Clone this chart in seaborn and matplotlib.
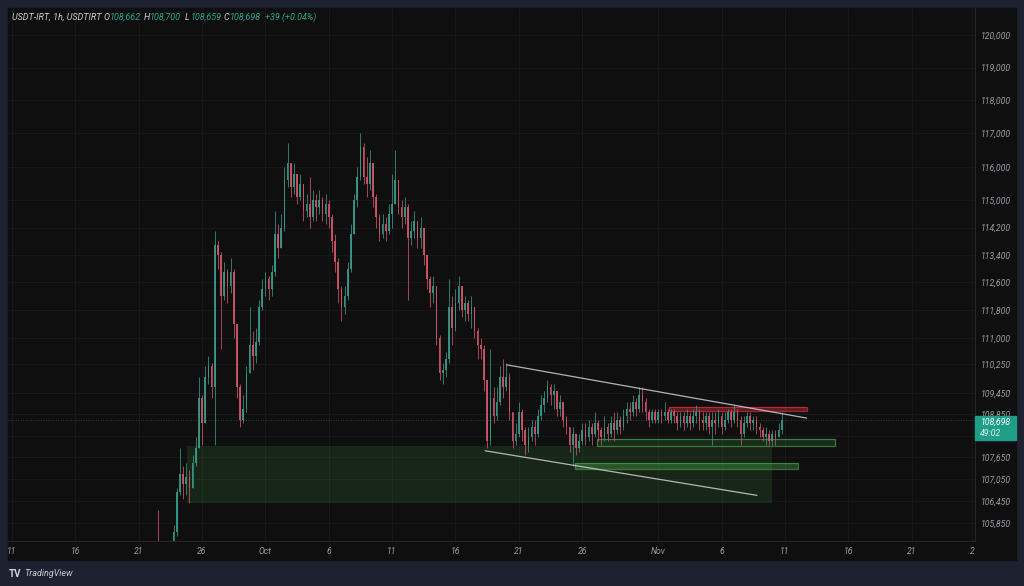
import numpy as np
import pandas as pd
import seaborn as sns
import matplotlib.pyplot as plt
import matplotlib.dates as mdates
from matplotlib.patches import Rectangle
from matplotlib.ticker import FixedLocator, NullLocator, FuncFormatter

# USDT-IRT, resampled to 6h candles, prices in thousands of IRT
START = "2025-09-21 12:00"
FREQ = "6h"
first_open = 104.9

close = [
    104.8, 104.6, 104.9, 105.0, 104.9, 104.7, 104.8, 104.9, 105.0, 105.6,
    106.7, 107.2, 106.9, 107.1, 106.8, 107.5, 107.9, 109.3, 108.6, 109.9,
    110.2, 109.6, 113.7, 113.4, 112.2, 112.9, 112.5, 112.9, 111.4, 109.6,
    108.7, 109.0, 110.0, 110.8, 110.5, 110.9, 111.9, 112.4, 112.7, 112.4,
    112.9, 114.0, 113.6, 114.2, 115.6, 116.1, 115.4, 115.8, 115.1, 115.5,
    114.7, 114.9, 114.5, 115.0, 114.8, 115.0, 114.6, 114.9, 114.5, 113.8,
    113.2, 112.4, 111.9, 112.2, 113.0, 114.0, 115.0, 115.7, 116.6, 115.7,
    115.5, 116.1, 115.1, 114.5, 114.0, 114.3, 114.1, 114.6, 114.9, 115.6,
    114.8, 114.5, 114.8, 113.9, 114.1, 114.4, 113.9, 114.2, 113.4, 112.7,
    112.3, 112.5, 111.0, 110.0, 110.1, 110.4, 111.9, 111.3, 112.0, 112.5,
    111.8, 112.0, 111.7, 111.9, 111.2, 110.8, 110.7, 109.8, 108.1, 109.3,
    108.8, 109.2, 109.9, 109.6, 109.9, 108.9, 108.1, 108.3, 108.9, 108.4,
    108.0, 108.2, 108.5, 108.3, 108.8, 109.1, 109.3, 109.6, 109.4, 109.5,
    109.0, 109.2, 108.7, 108.5, 108.0, 108.3, 107.9, 108.1, 108.4, 108.2,
    108.5, 108.3, 108.6, 108.4, 108.2, 108.5, 108.3, 108.6, 108.4, 108.7,
    108.5, 108.8, 109.0, 108.9, 109.2, 109.0, 109.4, 109.2, 108.9, 108.7,
    108.9, 108.7, 108.9, 108.8, 108.9, 108.7, 108.9, 108.8, 108.6, 108.8,
    108.6, 108.8, 108.6, 108.8, 108.9, 108.7, 108.6, 108.8, 108.5, 108.7,
    108.6, 108.8, 108.5, 108.7, 108.9, 108.7, 108.9, 108.7, 108.3, 108.6,
    108.8, 108.6, 108.7, 108.5, 108.4, 108.2, 108.3, 108.1, 108.3, 108.2,
    108.4, 108.698,
]
high = [
    105.1, 105.0, 105.2, 105.3, 106.2, 105.1, 105.2, 105.3, 105.3, 105.8,
    106.8, 107.9, 107.4, 107.5, 107.3, 107.7, 108.2, 109.9, 109.4, 110.2,
    110.5, 110.3, 114.1, 113.8, 113.5, 113.2, 113.0, 113.3, 113.0, 111.4,
    109.7, 109.4, 110.2, 111.9, 111.2, 111.3, 112.1, 112.7, 112.9, 112.8,
    113.1, 114.7, 114.3, 114.6, 116.0, 116.7, 116.0, 116.1, 115.6, 115.8,
    115.4, 115.2, 115.7, 115.3, 115.2, 115.3, 115.1, 115.2, 115.0, 114.6,
    114.0, 113.3, 112.5, 112.5, 113.2, 114.3, 115.2, 116.0, 117.0, 116.7,
    116.3, 116.5, 116.0, 115.2, 114.6, 114.6, 114.5, 114.9, 115.8, 116.5,
    115.6, 115.0, 115.1, 114.9, 114.4, 114.7, 114.4, 114.5, 114.1, 113.4,
    112.8, 112.8, 112.5, 111.1, 110.3, 110.6, 112.7, 112.2, 112.4, 112.8,
    112.5, 112.2, 112.1, 112.2, 111.9, 111.3, 111.0, 110.8, 109.8, 110.7,
    109.6, 109.6, 110.2, 110.4, 110.3, 110.0, 108.9, 108.6, 109.2, 109.0,
    108.5, 108.5, 108.7, 108.7, 109.0, 109.4, 109.5, 109.8, 109.7, 109.7,
    109.5, 109.4, 109.2, 108.8, 108.5, 108.5, 108.3, 108.3, 108.6, 108.6,
    108.7, 108.6, 108.9, 108.7, 108.5, 108.8, 108.6, 108.8, 108.9, 108.9,
    108.8, 109.0, 109.2, 109.2, 109.4, 109.3, 109.6, 109.6, 109.3, 109.0,
    109.0, 109.0, 109.0, 109.0, 109.2, 109.0, 109.0, 109.0, 108.9, 108.9,
    108.9, 109.0, 108.9, 109.0, 109.1, 109.0, 108.9, 108.9, 108.9, 108.9,
    108.9, 109.0, 108.9, 108.9, 109.0, 109.0, 109.1, 109.0, 108.8, 108.8,
    108.9, 108.9, 108.8, 108.8, 108.6, 108.5, 108.5, 108.4, 108.4, 108.4,
    108.6, 108.9,
]
low = [
    104.5, 104.3, 104.4, 104.6, 104.5, 104.3, 104.4, 104.5, 104.7, 104.9,
    105.5, 106.6, 106.5, 106.6, 106.4, 106.8, 107.4, 107.9, 108.0, 108.6,
    109.7, 109.3, 108.0, 113.0, 110.7, 112.1, 112.0, 112.3, 111.0, 109.3,
    108.5, 108.6, 108.9, 110.0, 110.1, 110.3, 110.8, 111.8, 112.2, 112.1,
    112.2, 112.8, 113.3, 113.6, 114.1, 115.4, 115.1, 115.2, 114.9, 115.0,
    114.4, 114.5, 114.2, 114.4, 114.4, 114.6, 114.4, 114.3, 114.2, 113.5,
    112.9, 112.0, 111.5, 111.7, 112.1, 112.9, 114.1, 114.8, 115.6, 115.5,
    115.1, 115.3, 114.8, 114.2, 113.8, 113.9, 113.8, 114.0, 114.2, 114.9,
    114.6, 114.2, 114.3, 112.1, 113.7, 113.9, 113.6, 113.6, 113.1, 112.4,
    111.9, 112.0, 110.8, 109.8, 109.7, 109.9, 110.3, 110.8, 111.2, 111.8,
    111.6, 111.5, 111.5, 111.3, 111.0, 110.4, 110.4, 109.5, 107.9, 108.0,
    108.6, 108.7, 109.1, 109.3, 109.5, 108.7, 107.9, 108.0, 108.2, 108.1,
    107.7, 107.8, 108.1, 108.0, 108.2, 108.7, 108.9, 109.2, 109.1, 109.0,
    108.8, 108.8, 108.5, 108.3, 107.8, 107.4, 107.7, 107.8, 108.0, 108.0,
    108.1, 108.0, 108.2, 108.1, 108.0, 108.1, 108.1, 108.2, 108.1, 108.3,
    108.3, 108.4, 108.6, 108.7, 108.8, 108.8, 108.9, 108.9, 108.7, 108.5,
    108.6, 108.6, 108.6, 108.6, 108.7, 108.6, 108.6, 108.6, 108.4, 108.5,
    108.4, 108.5, 108.4, 108.5, 108.6, 108.4, 108.4, 108.4, 108.3, 108.0,
    108.3, 108.5, 108.3, 108.4, 108.6, 108.5, 108.6, 108.5, 108.0, 108.2,
    108.5, 108.4, 108.4, 108.3, 108.2, 108.1, 108.0, 108.0, 108.0, 108.0,
    108.2, 108.3,
]

# drawings on the chart (time range, price range in thousands)
demand_zone = ("2025-09-24 19:30", "2025-11-09 23:30", 106.39, 107.97)
support_1 = ("2025-10-27 04:00", "2025-11-14 23:00", 107.97, 108.15)
support_2 = ("2025-10-25 10:30", "2025-11-12 01:00", 107.33, 107.49)
resistance = ("2025-11-01 20:30", "2025-11-12 18:00", 108.93, 109.05)
trend_upper = (("2025-10-20 01:00", 110.24), ("2025-11-12 17:15", 108.74))
trend_lower = (("2025-10-18 08:00", 107.83), ("2025-11-08 19:00", 106.60))

y_ticks = [120000, 119000, 118000, 117000, 116000, 115000, 114200, 113400,
           112600, 111800, 111000, 110250, 109450, 108850, 108250, 107650,
           107050, 106450, 105850]
x_tick_dates = ["2025-09-11", "2025-09-16", "2025-09-21", "2025-09-26",
                "2025-10-01", "2025-10-06", "2025-10-11", "2025-10-16",
                "2025-10-21", "2025-10-26", "2025-11-01", "2025-11-06",
                "2025-11-11", "2025-11-16", "2025-11-21", "2025-11-25 18:00"]
x_tick_labels = ["11", "16", "21", "26", "Oct", "6", "11", "16", "21", "26",
                 "Nov", "6", "11", "16", "21", "2"]

last_price = 108698

# style
BG = "#0f0f0f"
OUTER = "#1e2130"
UP = "#3a9a8a"
DOWN = "#d2566a"
TXT = "#9a9da6"

sns.set_theme(style="dark", rc={
    "axes.facecolor": BG,
    "figure.facecolor": OUTER,
    "grid.color": "#1a1a1a",
    "grid.linewidth": 0.6,
    "axes.edgecolor": "#262626",
})
plt.rcParams["font.family"] = ["Roboto", "DejaVu Sans"]

df = pd.DataFrame({"close": close, "high": high, "low": low})
df["time"] = pd.date_range(START, periods=len(df), freq=FREQ)
df["open"] = [first_open] + close[:-1]
df[["open", "close", "high", "low"]] *= 1000
df["high"] = df[["high", "open", "close"]].max(axis=1)
df["low"] = df[["low", "open", "close"]].min(axis=1)
df["x"] = mdates.date2num(df["time"])
df["up"] = df["close"] >= df["open"]
colors = np.where(df["up"], UP, DOWN)

fig = plt.figure(figsize=(10.24, 5.86), dpi=100)
W, H = 1024, 586

# chart panel background
fig.add_artist(Rectangle((8 / W, 26 / H), 1008 / W, 552 / H,
                         transform=fig.transFigure, color=BG, zorder=-1))

ax = fig.add_axes([8 / W, 45 / H, 967 / W, 533 / H])
ax.set_yscale("log")


def tnum(s):
    return mdates.date2num(pd.Timestamp(s))


def zone(z, face, alpha, edge=None, ealpha=0.0):
    x0, x1 = tnum(z[0]), tnum(z[1])
    ax.add_patch(Rectangle((x0, z[2] * 1000), x1 - x0, (z[3] - z[2]) * 1000,
                           facecolor=face, alpha=alpha, lw=0, zorder=1))
    if edge:
        ax.add_patch(Rectangle((x0, z[2] * 1000), x1 - x0, (z[3] - z[2]) * 1000,
                               fill=False, edgecolor=edge, alpha=ealpha, lw=0.9, zorder=1))


zone(demand_zone, "#4caf50", 0.15)
zone(support_1, "#4caf50", 0.18, "#4caf50", 0.65)
zone(support_2, "#4caf50", 0.35, "#4caf50", 0.6)
zone(resistance, "#f23645", 0.35, "#f23645", 0.6)

# candles
ax.vlines(df["x"], df["low"], df["high"], colors=colors, lw=0.6, alpha=0.9, zorder=3)
body = (df["close"] - df["open"]).abs().clip(lower=20)
ax.bar(df["x"], body, bottom=df[["open", "close"]].min(axis=1), width=0.13,
       color=colors, alpha=0.9, lw=0, zorder=3)

# trend lines
for line in (trend_upper, trend_lower):
    ax.plot([tnum(line[0][0]), tnum(line[1][0])],
            [line[0][1] * 1000, line[1][1] * 1000],
            color="#d0d0d0", lw=0.9, alpha=0.85, zorder=4)

# last price line
ax.axhline(last_price, color=UP, lw=0.6, ls=(0, (1, 2)), alpha=0.5, zorder=2)

ax.set_xlim(mdates.date2num(pd.Timestamp("2025-09-10 16:25")),
            mdates.date2num(pd.Timestamp("2025-11-26 00:00")))
ax.set_ylim(105356, 120836)

ax.yaxis.set_major_locator(FixedLocator(y_ticks))
ax.yaxis.set_minor_locator(NullLocator())
ax.yaxis.set_major_formatter(FuncFormatter(lambda v, p: f"{v:,.0f}"))
ax.yaxis.tick_right()
ax.xaxis.set_major_locator(FixedLocator([tnum(d) for d in x_tick_dates]))
ax.xaxis.set_minor_locator(NullLocator())
ax.set_xticklabels(x_tick_labels)
ax.tick_params(axis="y", length=0, pad=4, labelsize=6.2, labelcolor=TXT)
ax.tick_params(axis="x", length=0, pad=4, labelsize=6.2, labelcolor=TXT)
for lbl in ax.get_xticklabels() + ax.get_yticklabels():
    lbl.set_fontstyle("italic")
ax.grid(True, color="#1a1a1a", lw=0.6)
for s in ("top", "left"):
    ax.spines[s].set_visible(False)
for s in ("right", "bottom"):
    ax.spines[s].set_color("#262626")
    ax.spines[s].set_linewidth(0.8)
ax.set_xlabel("")
ax.set_ylabel("")

# header
hy = 1 - 17 / H
kw = dict(fontsize=6.5, fontstyle="italic", va="center", ha="left")
fig.text(12 / W, hy, "USDT-IRT, 1h, USDTIRT", color="#c9ccd4", **kw)
for px, key, val in [(104, "O", "108,662"), (144, "H", "108,700"),
                     (185, "L", "108,659"), (224, "C", "108,698")]:
    fig.text(px / W, hy, key, color="#c9ccd4", **kw)
    fig.text((px + 6) / W, hy, val, color="#2aa58f", **kw)
fig.text(265 / W, hy, "+39 (+0.04%)", color="#2aa58f", **kw)

# last price label on the price scale
fig.add_artist(Rectangle((975 / W, 1 - 440 / H), 41 / W, 24 / H,
                         transform=fig.transFigure, color="#1e9e87", zorder=5))
fig.text(1011 / W, 1 - 422 / H, f"{last_price:,}", color="white", fontsize=6.3,
         fontstyle="italic", ha="right", va="center", zorder=6)
fig.text(980 / W, 1 - 434 / H, "49:02", color="#d8f2ec", fontsize=6.3,
         fontstyle="italic", ha="left", va="center", zorder=6)

# footer logo
fig.text(9 / W, 1 - 574 / H, "TV", color="#d1d4dc", fontsize=7, fontweight="bold",
         ha="left", va="center")
fig.text(24 / W, 1 - 574 / H, "TradingView", color="#c9ccd4", fontsize=6.5,
         fontstyle="italic", ha="left", va="center")

fig.savefig("out.png", dpi=100, facecolor=OUTER)
